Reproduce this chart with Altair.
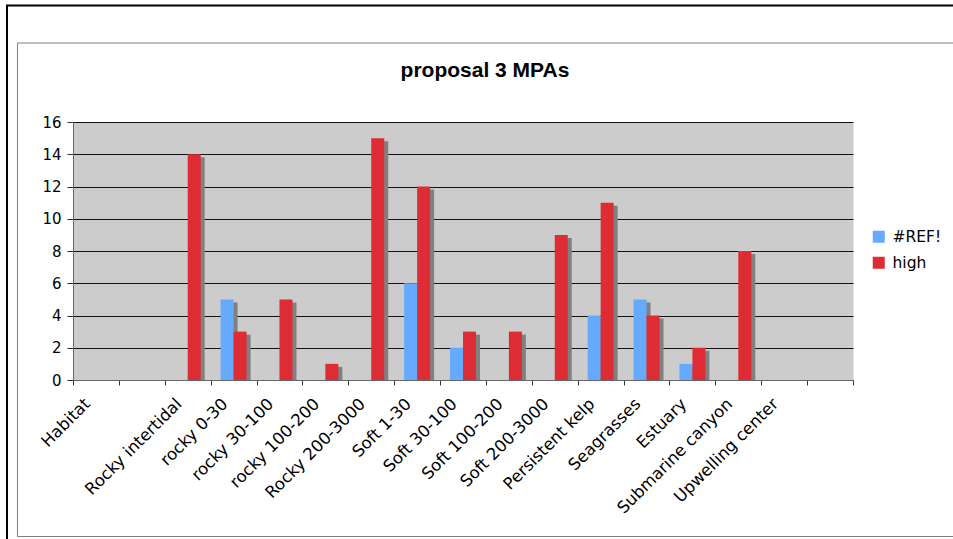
import altair as alt
import pandas as pd

# Habitat categories (two unnamed slots keep the Excel-style spacing)
categories = [
    "Habitat", "", "Rocky intertidal", "rocky 0-30", "rocky 30-100", "rocky 100-200",
    "Rocky 200-3000", "Soft 1-30", "Soft 30-100", "Soft 100-200", "Soft 200-3000",
    "Persistent kelp", "Seagrasses", "Estuary", "Submarine canyon", "Upwelling center", " ",
]
ref_counts = [None, None, None, 5, None, None, None, 6, 2, None, None, 4, 5, 1, None, None, None]
high_counts = [None, None, 14, 3, 5, 1, 15, 12, 3, 3, 9, 11, 4, 2, 8, None, None]

series_names = ["#REF!", "high"]
series_colors = ["#66AAFF", "#DD2C33"]
shadow_color = "#808080"
y_ticks = [0, 2, 4, 6, 8, 10, 12, 14, 16]
chart_title = "proposal 3 MPAs"

rows = []
for name, counts in zip(series_names, [ref_counts, high_counts]):
    for cat, v in zip(categories, counts):
        if v is not None:
            rows.append({"habitat": cat, "series": name, "count": v})
df = pd.DataFrame(rows)

W, H = 780, 258
BAR = 13
FONT = "DejaVu Sans"

x_enc = alt.X(
    "habitat:N",
    sort=categories,
    scale=alt.Scale(domain=categories, paddingInner=0, paddingOuter=0),
    axis=alt.Axis(
        title=None, labelAngle=-45, labelAlign="right", labelBaseline="middle",
        labelFont=FONT, labelFontSize=16.5, labelColor="black",
        labelPadding=16, labelOffset=-9, tickBand="extent", tickSize=5,
        tickColor="#333333", domainColor="#666666", labelOverlap=False,
    ),
)
y_enc = alt.Y(
    "count:Q",
    scale=alt.Scale(domain=[0, 16], nice=False),
    axis=alt.Axis(
        title=None, values=y_ticks, labelFont=FONT, labelFontSize=15,
        labelColor="black", labelPadding=6, tickSize=6, tickColor="#333333",
        domainColor="#666666", grid=True, gridColor="#111111", gridWidth=1,
    ),
)
color_enc = alt.Color(
    "series:N",
    scale=alt.Scale(domain=series_names, range=series_colors),
    legend=alt.Legend(
        title=None, orient="none", legendX=798, legendY=107, symbolType="square",
        symbolSize=144, symbolStrokeWidth=0, labelFont=FONT, labelFontSize=15.5,
        labelColor="black", labelOffset=6, rowPadding=9, padding=0,
    ),
)

base = alt.Chart(df)
layers = []
# drop shadows: shifted right and down, clipped at the plot edge
for name, shift in zip(series_names, [-BAR / 2, BAR / 2]):
    layers.append(
        base.transform_filter(alt.datum.series == name)
        .mark_bar(width=BAR, xOffset=shift + 4, yOffset=3, color=shadow_color, clip=True)
        .encode(x=x_enc, y=y_enc)
    )
for name, shift in zip(series_names, [-BAR / 2, BAR / 2]):
    layers.append(
        base.transform_filter(alt.datum.series == name)
        .mark_bar(width=BAR, xOffset=shift)
        .encode(x=x_enc, y=y_enc, color=color_enc)
    )

one = pd.DataFrame({"label": [chart_title]})
outer_frame = alt.Chart(one).mark_rect(fill="transparent", stroke="black", strokeWidth=2).encode(
    x=alt.value(-66), x2=alt.value(1000), y=alt.value(-116.5), y2=alt.value(700)
)
inner_frame = alt.Chart(one).mark_rect(fill="transparent", stroke="#808080", strokeWidth=1).encode(
    x=alt.value(-55.5), x2=alt.value(1000), y=alt.value(-79), y2=alt.value(414.5)
)
title_text = alt.Chart(one).mark_text(
    font="Liberation Sans", fontSize=21, fontWeight="bold", align="center",
    baseline="alphabetic", color="black",
).encode(text="label:N", x=alt.value(412), y=alt.value(-45))

chart = alt.layer(outer_frame, inner_frame, *layers, title_text).properties(
    width=W, height=H,
    padding={"left": 73, "top": 122, "right": 100, "bottom": 159},
    autosize=alt.AutoSizeParams(type="none"),
).configure_view(fill="#CCCCCC", stroke="transparent")

chart.save("out.html", embed_options={"renderer": "svg", "actions": False})
